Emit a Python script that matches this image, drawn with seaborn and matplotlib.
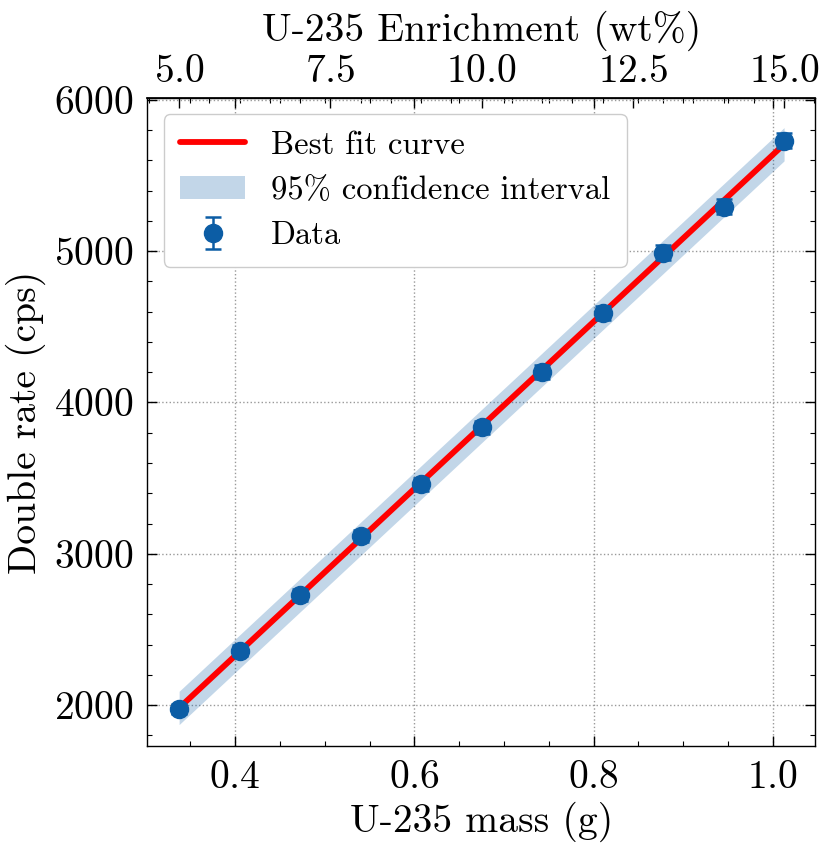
import numpy as np
import pandas as pd
import matplotlib
matplotlib.use('Agg')
import matplotlib.pyplot as plt
import seaborn as sns

# data
enrichment = [5, 6, 7, 8, 9, 10, 11, 12, 13, 14, 15]          # wt%
mass = [0.3375, 0.405, 0.4725, 0.54, 0.6075, 0.675, 0.7425, 0.81, 0.8775, 0.945, 1.0125]  # g
doubles = [1975, 2360, 2730, 3120, 3460, 3835, 4200, 4590, 4990, 5295, 5730]  # cps
doubles_err = [35, 37, 39, 40, 42, 43, 45, 46, 48, 49, 51]
ci_halfwidth = 110  # cps, half width of the shaded band

df = pd.DataFrame({'mass': mass, 'enrichment': enrichment,
                   'doubles': doubles, 'err': doubles_err})

sns.set_theme(style='ticks')
plt.rcParams['font.family'] = ['cmr10', 'DejaVu Serif']
plt.rcParams['mathtext.fontset'] = 'cm'
plt.rcParams['axes.formatter.use_mathtext'] = True
plt.rcParams['axes.unicode_minus'] = False
plt.rcParams['text.color'] = 'black'
plt.rcParams['axes.labelcolor'] = 'black'
plt.rcParams['axes.edgecolor'] = 'black'
plt.rcParams['xtick.color'] = 'black'
plt.rcParams['ytick.color'] = 'black'
plt.rcParams['xtick.direction'] = 'in'
plt.rcParams['ytick.direction'] = 'in'
plt.rcParams['xtick.top'] = True
plt.rcParams['ytick.right'] = True
plt.rcParams['xtick.minor.visible'] = True
plt.rcParams['ytick.minor.visible'] = True

fig = plt.figure(figsize=(8.29, 8.55), dpi=100)
ax = fig.add_axes([0.1777, 0.1275, 0.8054, 0.758])

# linear fit of the data
coef = np.polyfit(df['mass'], df['doubles'], 1)
fit = pd.DataFrame({'mass': df['mass']})
fit['doubles'] = np.polyval(coef, fit['mass'])

sns.lineplot(data=fit, x='mass', y='doubles', color='red', linewidth=4.2,
             label='Best fit curve', ax=ax, zorder=3)
ax.fill_between(fit['mass'], fit['doubles'] - ci_halfwidth, fit['doubles'] + ci_halfwidth,
                color='#0C5DA5', alpha=0.25, linewidth=0, label='95% confidence interval', zorder=2)
ax.errorbar(df['mass'], df['doubles'], yerr=df['err'], fmt='o', color='#0C5DA5',
            markersize=13, capsize=6, elinewidth=1.8, capthick=1.8, label='Data', zorder=4)

ax.set_xlim(0.302, 1.047)
ax.set_ylim(1730, 6013)
ax.set_xticks([0.4, 0.6, 0.8, 1.0])
ax.set_yticks([2000, 3000, 4000, 5000, 6000])
ax.xaxis.set_minor_locator(matplotlib.ticker.MultipleLocator(0.05))
ax.yaxis.set_minor_locator(matplotlib.ticker.MultipleLocator(200))
ax.tick_params(which='major', length=7, width=1.0, labelsize=28.5, pad=10)
ax.tick_params(which='minor', length=3.5, width=0.8)
for s in ax.spines.values():
    s.set_linewidth(1.0)
ax.grid(True, which='major', linestyle=':', color='#999999', linewidth=1.0)

ax.set_xlabel('U-235 mass (g)', fontsize=28.5, labelpad=4)
ax.set_ylabel('Double rate (cps)', fontsize=28.5, labelpad=6)

# top axis in enrichment
sec = ax.secondary_xaxis('top', functions=(lambda m: m / 0.0675, lambda e: e * 0.0675))
sec.set_xticks([5.0, 7.5, 10.0, 12.5, 15.0])
sec.xaxis.set_minor_locator(matplotlib.ticker.MultipleLocator(0.5))
sec.tick_params(which='major', direction='in', length=7, width=1.0, labelsize=28.5, pad=6)
sec.tick_params(which='minor', direction='in', length=3.5, width=0.8)
sec.set_xlabel('U-235 Enrichment (wt%)', fontsize=28.5, labelpad=9)

handles, labels = ax.get_legend_handles_labels()
order = [labels.index(l) for l in ['Best fit curve', '95% confidence interval', 'Data']]
ax.legend([handles[i] for i in order], [labels[i] for i in order], loc='upper left',
          fontsize=23.5, frameon=True, fancybox=True, edgecolor='#cccccc', framealpha=1,
          borderpad=0.5, handlelength=2.0)

fig.savefig('out.png', dpi=100)
